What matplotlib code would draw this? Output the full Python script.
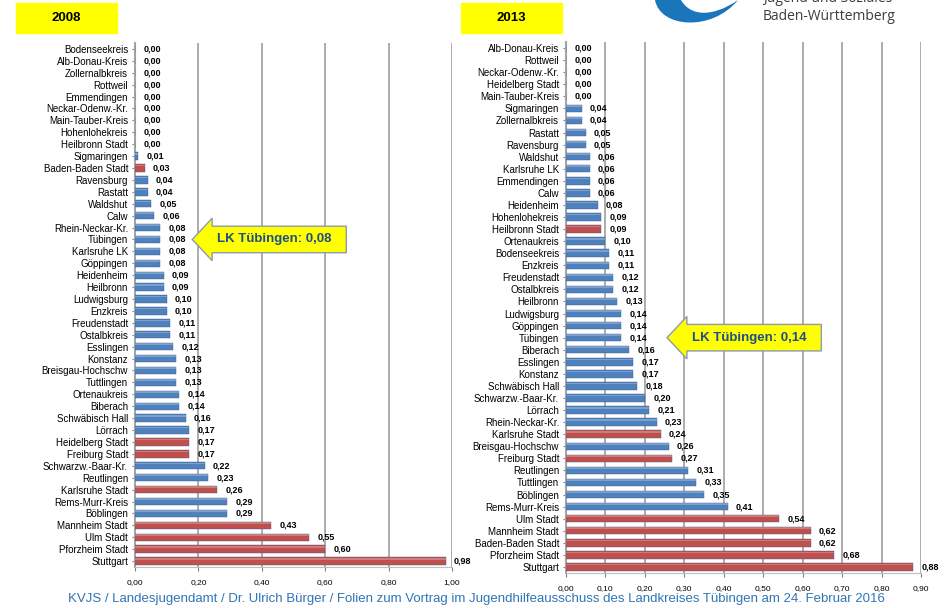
import numpy as np
import matplotlib.pyplot as plt
from matplotlib.patches import Rectangle, PathPatch
from matplotlib.path import Path

plt.rcParams['font.family'] = ['Liberation Sans', 'DejaVu Sans']

BLUE = '#4F81BD'
RED = '#C0504D'
W, H = 948, 608

# 2008, sorted top to bottom as in the chart
names_2008 = ['Bodenseekreis', 'Alb-Donau-Kreis', 'Zollernalbkreis', 'Rottweil',
              'Emmendingen', 'Neckar-Odenw.-Kr.', 'Main-Tauber-Kreis', 'Hohenlohekreis',
              'Heilbronn Stadt', 'Sigmaringen', 'Baden-Baden Stadt', 'Ravensburg',
              'Rastatt', 'Waldshut', 'Calw', 'Rhein-Neckar-Kr.', 'Tübingen',
              'Karlsruhe LK', 'Göppingen', 'Heidenheim', 'Heilbronn', 'Ludwigsburg',
              'Enzkreis', 'Freudenstadt', 'Ostalbkreis', 'Esslingen', 'Konstanz',
              'Breisgau-Hochschw', 'Tuttlingen', 'Ortenaukreis', 'Biberach',
              'Schwäbisch Hall', 'Lörrach', 'Heidelberg Stadt', 'Freiburg Stadt',
              'Schwarzw.-Baar-Kr.', 'Reutlingen', 'Karlsruhe Stadt', 'Rems-Murr-Kreis',
              'Böblingen', 'Mannheim Stadt', 'Ulm Stadt', 'Pforzheim Stadt', 'Stuttgart']
vals_2008 = [0.00, 0.00, 0.00, 0.00, 0.00, 0.00, 0.00, 0.00, 0.00, 0.01, 0.03,
             0.04, 0.04, 0.05, 0.06, 0.08, 0.08, 0.08, 0.08, 0.09, 0.09, 0.10,
             0.10, 0.11, 0.11, 0.12, 0.13, 0.13, 0.13, 0.14, 0.14, 0.16, 0.17,
             0.17, 0.17, 0.22, 0.23, 0.26, 0.29, 0.29, 0.43, 0.55, 0.60, 0.98]

# 2013
names_2013 = ['Alb-Donau-Kreis', 'Rottweil', 'Neckar-Odenw.-Kr.', 'Heidelberg Stadt',
              'Main-Tauber-Kreis', 'Sigmaringen', 'Zollernalbkreis', 'Rastatt',
              'Ravensburg', 'Waldshut', 'Karlsruhe LK', 'Emmendingen', 'Calw',
              'Heidenheim', 'Hohenlohekreis', 'Heilbronn Stadt', 'Ortenaukreis',
              'Bodenseekreis', 'Enzkreis', 'Freudenstadt', 'Ostalbkreis', 'Heilbronn',
              'Ludwigsburg', 'Göppingen', 'Tübingen', 'Biberach', 'Esslingen',
              'Konstanz', 'Schwäbisch Hall', 'Schwarzw.-Baar-Kr.', 'Lörrach',
              'Rhein-Neckar-Kr.', 'Karlsruhe Stadt', 'Breisgau-Hochschw',
              'Freiburg Stadt', 'Reutlingen', 'Tuttlingen', 'Böblingen',
              'Rems-Murr-Kreis', 'Ulm Stadt', 'Mannheim Stadt', 'Baden-Baden Stadt',
              'Pforzheim Stadt', 'Stuttgart']
vals_2013 = [0.00, 0.00, 0.00, 0.00, 0.00, 0.04, 0.04, 0.05, 0.05, 0.06, 0.06,
             0.06, 0.06, 0.08, 0.09, 0.09, 0.10, 0.11, 0.11, 0.12, 0.12, 0.13,
             0.14, 0.14, 0.14, 0.16, 0.17, 0.17, 0.18, 0.20, 0.21, 0.23, 0.24,
             0.26, 0.27, 0.31, 0.33, 0.35, 0.41, 0.54, 0.62, 0.62, 0.68, 0.88]

years = ['2008', '2013']
highlight = 'Tübingen'


def de(v):
    return f'{v:.2f}'.replace('.', ',')


def is_city(name):
    return 'Stadt' in name or name == 'Stuttgart'


def px(x, y):
    # pixel position (top-left origin) -> figure fraction
    return x / W, 1 - y / H


def callout_arrow(x0, y0, width, height, mutation_size):
    # box with a big arrow head pointing left
    padv = 0.55 * mutation_size
    left = x0 - 0.4 * mutation_size
    right = x0 + width + 1.1 * mutation_size
    bot, top = y0 - padv, y0 + height + padv
    h = top - bot
    ext = 0.3 * h
    tip = left - 0.75 * h
    mid = (bot + top) / 2
    verts = [(left, bot), (right, bot), (right, top), (left, top),
             (left, top + ext), (tip, mid), (left, bot - ext), (left, bot)]
    return Path(verts, closed=True)


def panel(ax, names, vals, xmax, step):
    y = np.arange(len(names))
    colors = [RED if is_city(n) else BLUE for n in names]
    ax.barh(y, vals, height=0.62, color=colors, edgecolor='#3A5F8A', linewidth=0.3,
            zorder=3)
    # lighter top face for a bit of depth
    ax.barh(y - 0.2, vals, height=0.14, color='white', alpha=0.25, linewidth=0,
            zorder=4)
    for yi, v in zip(y, vals):
        ax.annotate(de(v), (v, yi), xytext=(6, 0), textcoords='offset points',
                    ha='left', va='center', fontsize=6.5, fontweight='bold')
    ax.set_yticks(y)
    ax.set_yticklabels(names, fontsize=7)
    ax.set_ylim(len(names) - 0.5, -0.5)
    ax.set_xlim(0, xmax)
    ticks = np.arange(0, xmax + 1e-9, step)
    ax.set_xticks(ticks)
    ax.set_xticklabels([de(t) for t in ticks], fontsize=6)
    ax.grid(axis='x', color='#A6A6A6', linewidth=1.3, zorder=0)
    for s in ['top', 'right']:
        ax.spines[s].set_visible(False)
    ax.spines['left'].set_color('#A6A6A6')
    ax.spines['left'].set_linewidth(1.5)
    ax.spines['bottom'].set_color('#BFBFBF')
    ax.spines['bottom'].set_linewidth(0.8)
    ax.tick_params(axis='y', length=2, color='#808080', pad=3)
    ax.tick_params(axis='x', length=3, color='#808080', pad=6)

    i = names.index(highlight)
    ax.text(vals[i] + 0.18, i, f'LK {highlight}: {de(vals[i])}', ha='left',
            va='center', fontsize=9.5, fontweight='bold', color='#1F4E8C', zorder=6,
            bbox=dict(boxstyle=callout_arrow, fc='#FFFF00', ec='#8C9BB0', lw=1))


fig = plt.figure(figsize=(W / 100, H / 100), dpi=100)
ax1 = fig.add_axes([0.1424, 0.0674, 0.3344, 0.862])
ax2 = fig.add_axes([0.597, 0.0576, 0.3745, 0.8733])
panel(ax1, names_2008, vals_2008, 1.0, 0.2)
panel(ax2, names_2013, vals_2013, 0.9, 0.1)

# year boxes
for left, year in zip([16, 461], years):
    x0, y0 = px(left, 33)
    fig.add_artist(Rectangle((x0, y0), 101 / W, 30 / H, transform=fig.transFigure,
                             color='#FFFF00', zorder=1))
    fig.text(*px(left + 50.5, 18), year, ha='center', va='center', fontsize=9.5,
             fontweight='bold', zorder=2)

# logo swoosh and name
verts = [px(655, 0), px(660, 28), px(712, 32), px(738, 0),
         px(712, 18), px(690, 16), px(681, 0), px(655, 0)]
codes = [Path.MOVETO, Path.CURVE4, Path.CURVE4, Path.CURVE4,
         Path.CURVE4, Path.CURVE4, Path.CURVE4, Path.CLOSEPOLY]
fig.add_artist(PathPatch(Path(verts, codes), transform=fig.transFigure,
                         fc='#1B75BB', ec='none'))
fig.text(*px(763, -2), 'Jugend und Soziales', ha='left', va='center', fontsize=10,
         color='#3C3C3C', family=['Open Sans', 'DejaVu Sans'])
fig.text(*px(763, 17), 'Baden-Württemberg', ha='left', va='center', fontsize=10,
         color='#3C3C3C', family=['Open Sans', 'DejaVu Sans'])

fig.text(*px(476, 599), 'KVJS / Landesjugendamt / Dr. Ulrich Bürger / Folien zum '
         'Vortrag im Jugendhilfeausschuss des Landkreises Tübingen am 24. Februar 2016',
         ha='center', va='center', fontsize=9.5, color='#2F75B5')

fig.savefig('out.png', dpi=100)
